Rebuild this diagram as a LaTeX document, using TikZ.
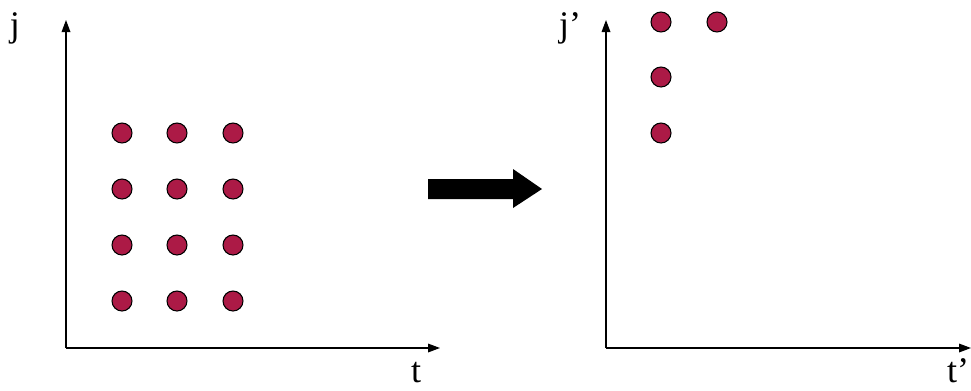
\documentclass[tikz,border=0pt]{standalone}
\usepackage{fontspec}
\setmainfont{Liberation Serif}
\usetikzlibrary{arrows.meta}
\definecolor{dotred}{RGB}{172,26,70}
\begin{document}
\begin{tikzpicture}[x=0.75pt,y=-0.75pt,
  axis/.style={line width=0.9pt,-{Triangle[length=9pt,width=6.5pt]}},
  dot/.style={circle,draw=black,line width=0.8pt,fill=dotred,minimum size=15pt,inner sep=0pt},
  lab/.style={font=\fontsize{27}{27}\selectfont,inner sep=0pt}]
\useasboundingbox (0,0) rectangle (971,390);
% left axes
\coordinate (O1) at (66,348);
\coordinate (Y1) at (66,20);
\coordinate (X1) at (440,348);
\draw[axis] (O1) -- (Y1);
\draw[axis] (O1) -- (X1);
\node[lab,anchor=base] (lj) at (15,36) {j};
\node[lab,anchor=base] (lt) at (416,382) {t};
% left dots
\foreach \c/\x in {1/122,2/177,3/233}
  \foreach \r/\y in {1/133,2/189,3/245,4/301}
    \node[dot] (d\r\c) at (\x,\y) {};
% big arrow
\fill (428,179) -- (513,179) -- (513,169) -- (542,189) -- (513,208) -- (513,199) -- (428,199) -- cycle;
% right axes
\coordinate (O2) at (606,348);
\coordinate (Y2) at (606,20);
\coordinate (X2) at (971,348);
\draw[axis] (O2) -- (Y2);
\draw[axis] (O2) -- (X2);
\node[lab,anchor=base] (rj) at (570,36) {j’};
\node[lab,anchor=base] (rt) at (958,382) {t’};
% right dots
\node[dot] (e1) at (661,22) {};
\node[dot] (e2) at (717,22) {};
\node[dot] (e3) at (661,77) {};
\node[dot] (e4) at (661,133) {};
\end{tikzpicture}
\end{document}
